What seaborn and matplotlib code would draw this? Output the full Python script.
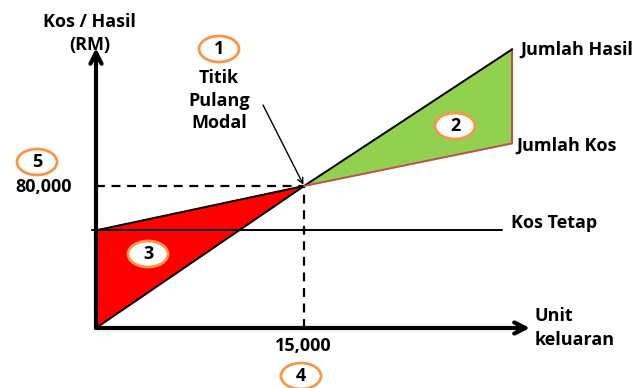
import matplotlib.pyplot as plt
import seaborn as sns
from matplotlib.patches import Ellipse

# Data
units = [0, 15000, 30000]
jumlah_hasil = [0, 80000, 157000]      # total revenue
jumlah_kos = [55000, 80000, 104000]    # total cost
kos_tetap = 55000                      # fixed cost
bep_unit = 15000
bep_rm = 80000
fixed_end = 29300

# pixel scale used to place the annotations (641x388 canvas)
PX_X = 13.87 / 1000      # px per unit
PX_Y = 1.775 / 1000      # px per RM
X0, Y0 = 96, 328         # origin in pixels

def px(xp, yp):
    return (xp - X0) / PX_X, (Y0 - yp) / PX_Y

sns.set_style("white")
plt.rcParams['font.family'] = ['Open Sans', 'DejaVu Sans']

fig = plt.figure(figsize=(6.41, 3.88), dpi=100)
ax = fig.add_axes([0, 0, 1, 1])
x_lo, y_hi = px(0, 0)
x_hi, y_lo = px(641, 388)
ax.set_xlim(x_lo, x_hi)
ax.set_ylim(y_lo, y_hi)
ax.axis('off')

# loss area (red) and profit area (green)
ax.fill([units[0], units[1], units[0]], [jumlah_kos[0], jumlah_kos[1], jumlah_hasil[0]],
        color='#FF0000', zorder=1)
ax.fill([units[1], units[2], units[2]], [jumlah_hasil[1], jumlah_hasil[2], jumlah_kos[2]],
        color='#92D050', zorder=1)
ax.plot([units[2], units[2]], [jumlah_kos[2], jumlah_hasil[2]], color='#C0504D', lw=1.5, zorder=2)

sns.lineplot(x=units, y=jumlah_hasil, color='black', lw=1.4, ax=ax, zorder=3)
sns.lineplot(x=units[:2], y=jumlah_kos[:2], color='black', lw=1.4, ax=ax, zorder=3)
sns.lineplot(x=units[1:], y=jumlah_kos[1:], color='#C0504D', lw=1.4, ax=ax, zorder=3)
ax.plot([px(92, 0)[0], fixed_end], [kos_tetap, kos_tetap], color='black', lw=1.4, zorder=3)

# dashed guides to break-even point
ax.plot([0, bep_unit], [bep_rm, bep_rm], color='black', lw=1.6, ls=(0, (4, 3)), zorder=2)
ax.plot([bep_unit, bep_unit], [0, bep_rm], color='black', lw=1.6, ls=(0, (4, 3)), zorder=2)

# axes with arrows
ax.annotate('', xy=(0, px(0, 48)[1]), xytext=(0, 0),
            arrowprops=dict(arrowstyle='->', lw=3, color='black', mutation_scale=20,
                            shrinkA=0, shrinkB=0), zorder=4)
ax.annotate('', xy=(px(530, 0)[0], 0), xytext=(0, 0),
            arrowprops=dict(arrowstyle='->', lw=3, color='black', mutation_scale=20,
                            shrinkA=0, shrinkB=0), zorder=4)

fs = 13
bold = dict(fontsize=fs, fontweight='bold', color='black')
ax.text(*px(89, 22), 'Kos / Hasil', ha='center', va='center', **bold)
ax.text(*px(90, 45), '(RM)', ha='center', va='center', **bold)
ax.text(*px(219, 78), 'Titik', ha='center', va='center', **bold)
ax.text(*px(219, 101), 'Pulang', ha='center', va='center', **bold)
ax.text(*px(219, 123), 'Modal', ha='center', va='center', **bold)
ax.text(*px(72, 187), f'{bep_rm:,}', ha='right', va='center', **bold)
ax.text(*px(303, 346), f'{bep_unit:,}', ha='center', va='center', **bold)
ax.text(*px(520, 50), 'Jumlah Hasil', ha='left', va='center', **bold)
ax.text(*px(516, 146), 'Jumlah Kos', ha='left', va='center', **bold)
ax.text(*px(511, 223), 'Kos Tetap', ha='left', va='center', **bold)
ax.text(*px(535, 316), 'Unit', ha='left', va='center', **bold)
ax.text(*px(535, 340), 'keluaran', ha='left', va='center', **bold)

# arrow pointing at the break-even point
ax.annotate('', xy=(bep_unit, bep_rm), xytext=px(263, 105),
            arrowprops=dict(arrowstyle='->', lw=1, color='black', shrinkA=0, shrinkB=1),
            zorder=5)

# numbered orange ellipses
markers = {'1': (219, 49), '2': (455, 126), '3': (148, 254), '4': (301, 376), '5': (37, 162)}
for label, (xp, yp) in markers.items():
    cx, cy = px(xp, yp)
    ax.add_patch(Ellipse((cx, cy), 40 / PX_X, 26 / PX_Y, facecolor='white',
                         edgecolor='#F79646', lw=2, zorder=6))
    ax.text(cx, cy, label, ha='center', va='center', zorder=7, **bold)

fig.savefig('out.png', dpi=100)
